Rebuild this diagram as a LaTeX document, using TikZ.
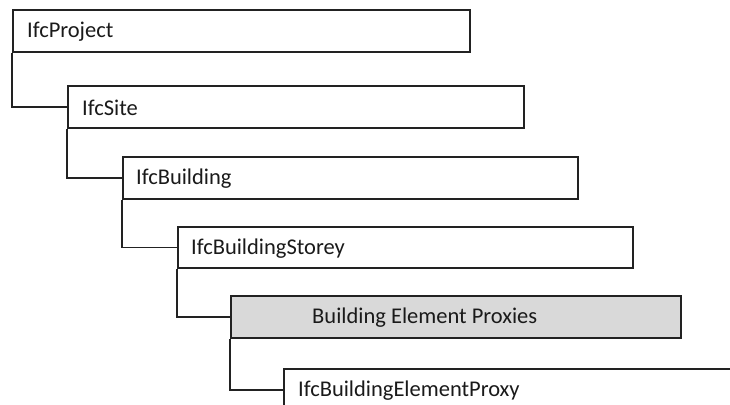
\documentclass[tikz,border=0pt]{standalone}
\usepackage{fontspec}
\setmainfont{Carlito}
\definecolor{ln}{HTML}{222222}
\definecolor{fillg}{HTML}{D9D9D9}
\definecolor{txt}{HTML}{1A1A1A}
\begin{document}
\begin{tikzpicture}[x=1pt,y=-1pt,
  box/.style={draw=ln,line width=1.8pt,anchor=north west,inner sep=0pt,minimum height=42pt},
  lbl/.style={anchor=west,inner sep=0pt,text=txt,font=\fontsize{22.5}{27}\selectfont},
  conn/.style={draw=ln,line width=1.8pt}]
\useasboundingbox (0,0) rectangle (730,404);
\clip (0,0) rectangle (730,404);
\fill[white] (0,0) rectangle (730,404);
\node[box,minimum width=457pt] (p) at (12,9) {};
\node[lbl] (pt) at ([xshift=15pt,yshift=-1pt]p.west) {IfcProject};
\node[box,minimum width=456pt] (s) at (67,85) {};
\node[lbl] (st) at ([xshift=15pt,yshift=-1pt]s.west) {IfcSite};
\node[box,minimum width=455pt] (b) at (122,156) {};
\node[lbl] (bt) at ([xshift=14pt,yshift=-1pt]b.west) {IfcBuilding};
\node[box,minimum width=455pt,minimum height=41pt] (bs) at (177,226) {};
\node[lbl] (bst) at ([xshift=14pt,yshift=-1pt]bs.west) {IfcBuildingStorey};
\node[box,fill=fillg,minimum width=450pt] (bp) at (230,295) {};
\node[lbl] (bpt) at ([xshift=82pt,yshift=-1pt]bp.west) {Building Element Proxies};
\node[box,minimum width=480pt] (ep) at (283,368) {};
\node[lbl] (ept) at ([xshift=15pt,yshift=-1pt]ep.west) {IfcBuildingElementProxy};
\draw[conn] (p.south west) |- (s.west);
\draw[conn] (s.south west) |- (b.west);
\draw[conn] (b.south west) |- (bs.west);
\draw[conn] (bs.south west) |- (bp.west);
\draw[conn] (bp.south west) |- (ep.west);
\end{tikzpicture}
\end{document}
